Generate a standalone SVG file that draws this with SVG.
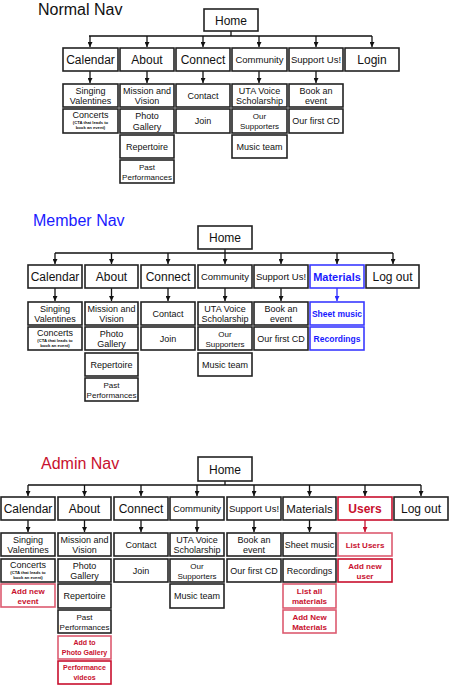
<svg xmlns="http://www.w3.org/2000/svg" width="449" height="686" viewBox="0 0 449 686">
<style>
text{font-family:"Liberation Sans","Open Sans",Arial,sans-serif;fill:#111;text-anchor:middle}
.title{font-size:16px;text-anchor:start}
.box{fill:#fff;stroke:#222;stroke-width:1.6}
.rbox{fill:#fff;stroke:#c8102e;stroke-width:1.6}
.rbox2{fill:#fff;stroke:#dd5a70;stroke-width:1.6}
.bbox{fill:#fff;stroke:#3a3aff;stroke-width:1.6}
.t{font-size:12px}
.ts{font-size:9.5px}
.s{font-size:9px}
.ss{font-size:8px}
.tiny{font-size:4.2px;font-weight:bold}
.r{fill:#c8102e;font-weight:bold}
.b{fill:#1a1aff;font-weight:bold}
.ln{stroke:#111;stroke-width:1.3;fill:none}
.lb{stroke:#2a2aff;stroke-width:1.3;fill:none}
.lr{stroke:#c8102e;stroke-width:1.3;fill:none}
</style>
<defs>
<marker id="ah" viewBox="0 0 6 6" refX="6" refY="3" markerWidth="5" markerHeight="5" markerUnits="userSpaceOnUse" orient="auto"><path d="M0,0 L6,3 L0,6 z" fill="#111"/></marker>
<marker id="ahb" viewBox="0 0 6 6" refX="6" refY="3" markerWidth="5" markerHeight="5" markerUnits="userSpaceOnUse" orient="auto"><path d="M0,0 L6,3 L0,6 z" fill="#2a2aff"/></marker>
<marker id="ahr" viewBox="0 0 6 6" refX="6" refY="3" markerWidth="5" markerHeight="5" markerUnits="userSpaceOnUse" orient="auto"><path d="M0,0 L6,3 L0,6 z" fill="#c8102e"/></marker>
</defs>

<!-- Titles -->
<text class="title" x="38" y="15">Normal Nav</text>
<text class="title" x="33" y="226" style="fill:#1a1aff">Member Nav</text>
<text class="title" x="41" y="469" style="fill:#c8102e">Admin Nav</text>

<!-- Connectors -->
<g id="connectors">
 <!-- Normal -->
 <path class="ln" d="M231,31 V36 M89,36 H372"/>
 <g class="ln" marker-end="url(#ah)">
  <line x1="90" y1="36" x2="90" y2="47"/><line x1="147" y1="36" x2="147" y2="47"/><line x1="203" y1="36" x2="203" y2="47"/>
  <line x1="259" y1="36" x2="259" y2="47"/><line x1="316" y1="36" x2="316" y2="47"/><line x1="372" y1="36" x2="372" y2="47"/>
  <line x1="90" y1="71" x2="90" y2="83"/><line x1="147" y1="71" x2="147" y2="83"/><line x1="203" y1="71" x2="203" y2="83"/>
  <line x1="259" y1="71" x2="259" y2="83"/><line x1="316" y1="71" x2="316" y2="83"/>
 </g>
 <!-- Member -->
 <path class="ln" d="M225,249 V253 M55,253 H393"/>
 <g class="ln" marker-end="url(#ah)">
  <line x1="55" y1="253" x2="55" y2="264"/><line x1="111.5" y1="253" x2="111.5" y2="264"/><line x1="168" y1="253" x2="168" y2="264"/>
  <line x1="225" y1="253" x2="225" y2="264"/><line x1="281" y1="253" x2="281" y2="264"/><line x1="337" y1="253" x2="337" y2="264"/>
  <line x1="393" y1="253" x2="393" y2="264"/>
  <line x1="55" y1="288" x2="55" y2="301"/><line x1="111.5" y1="288" x2="111.5" y2="301"/><line x1="168" y1="288" x2="168" y2="301"/>
  <line x1="225" y1="288" x2="225" y2="301"/><line x1="281" y1="288" x2="281" y2="301"/>
 </g>
 <line class="lb" x1="337" y1="288" x2="337" y2="301" marker-end="url(#ahb)"/>
 <!-- Admin -->
 <path class="ln" d="M225,481 V485 M28,485 H421"/>
 <g class="ln" marker-end="url(#ah)">
  <line x1="28" y1="485" x2="28" y2="496"/><line x1="84.5" y1="485" x2="84.5" y2="496"/><line x1="141" y1="485" x2="141" y2="496"/>
  <line x1="197" y1="485" x2="197" y2="496"/><line x1="254" y1="485" x2="254" y2="496"/><line x1="309.5" y1="485" x2="309.5" y2="496"/>
  <line x1="365" y1="485" x2="365" y2="496"/><line x1="421" y1="485" x2="421" y2="496"/>
  <line x1="28" y1="520" x2="28" y2="532"/><line x1="84.5" y1="520" x2="84.5" y2="532"/><line x1="141" y1="520" x2="141" y2="532"/>
  <line x1="197" y1="520" x2="197" y2="532"/><line x1="254" y1="520" x2="254" y2="532"/><line x1="309.5" y1="520" x2="309.5" y2="532"/>
 </g>
 <line class="lr" x1="365" y1="520" x2="365" y2="532" marker-end="url(#ahr)"/>
</g>

<!-- ===== Normal Nav ===== -->
<g id="n-home"><rect class="box" x="204" y="9" width="54" height="22"/><text class="t" x="231" y="24.5">Home</text></g>
<g id="n-calendar"><rect class="box" x="63" y="48" width="55" height="23"/><text class="t" x="90.5" y="64">Calendar</text></g>
<g id="n-about"><rect class="box" x="120" y="48" width="54" height="23"/><text class="t" x="147" y="64">About</text></g>
<g id="n-connect"><rect class="box" x="176" y="48" width="54" height="23"/><text class="t" x="203" y="64">Connect</text></g>
<g id="n-community"><rect class="box" x="232" y="48" width="55" height="23"/><text class="ts" x="259.5" y="63">Community</text></g>
<g id="n-support"><rect class="box" x="289" y="48" width="54" height="23"/><text class="ts" x="316" y="63">Support Us!</text></g>
<g id="n-login"><rect class="box" x="345" y="48" width="54" height="23"/><text class="t" x="372" y="64">Login</text></g>

<g id="n-singing"><rect class="box" x="63" y="84" width="55" height="23"/><text class="s" x="90.5" y="94">Singing</text><text class="s" x="90.5" y="104">Valentines</text></g>
<g id="n-concerts"><rect class="box" x="63" y="109" width="55" height="24"/><text class="s" x="90.5" y="118">Concerts</text><text class="tiny" x="90.5" y="124">(CTA that leads to</text><text class="tiny" x="90.5" y="129">book an event)</text></g>
<g id="n-mission"><rect class="box" x="120" y="84" width="54" height="23"/><text class="s" x="147" y="94">Mission and</text><text class="s" x="147" y="104">Vision</text></g>
<g id="n-photo"><rect class="box" x="120" y="109" width="54" height="24"/><text class="s" x="147" y="119">Photo</text><text class="s" x="147" y="129.5">Gallery</text></g>
<g id="n-repertoire"><rect class="box" x="120" y="135" width="54" height="23"/><text class="s" x="147" y="149.5">Repertoire</text></g>
<g id="n-past"><rect class="box" x="120" y="160" width="54" height="23"/><text class="ss" x="147" y="169.5">Past</text><text class="ss" x="147" y="179.5">Performances</text></g>
<g id="n-contact"><rect class="box" x="176" y="84" width="54" height="23"/><text class="s" x="203" y="98.5">Contact</text></g>
<g id="n-join"><rect class="box" x="176" y="109" width="54" height="24"/><text class="s" x="203" y="124">Join</text></g>
<g id="n-uta"><rect class="box" x="232" y="84" width="55" height="23"/><text class="s" x="259.5" y="94">UTA Voice</text><text class="s" x="259.5" y="104">Scholarship</text></g>
<g id="n-supporters"><rect class="box" x="232" y="109" width="55" height="24"/><text class="ss" x="259.5" y="119">Our</text><text class="ss" x="259.5" y="129">Supporters</text></g>
<g id="n-music"><rect class="box" x="232" y="135" width="55" height="23"/><text class="s" x="259.5" y="149.5">Music team</text></g>
<g id="n-book"><rect class="box" x="289" y="84" width="54" height="23"/><text class="s" x="316" y="94">Book an</text><text class="s" x="316" y="104">event</text></g>
<g id="n-cd"><rect class="box" x="289" y="109" width="54" height="24"/><text class="s" x="316" y="124">Our first CD</text></g>

<!-- ===== Member Nav ===== -->
<g id="m-home"><rect class="box" x="198" y="226" width="54" height="23"/><text class="t" x="225" y="242">Home</text></g>
<g id="m-calendar"><rect class="box" x="28" y="265" width="54" height="23"/><text class="t" x="55" y="281">Calendar</text></g>
<g id="m-about"><rect class="box" x="85" y="265" width="53" height="23"/><text class="t" x="111.5" y="281">About</text></g>
<g id="m-connect"><rect class="box" x="141" y="265" width="54" height="23"/><text class="t" x="168" y="281">Connect</text></g>
<g id="m-community"><rect class="box" x="198" y="265" width="54" height="23"/><text class="ts" x="225" y="280">Community</text></g>
<g id="m-support"><rect class="box" x="254" y="265" width="54" height="23"/><text class="ts" x="281" y="280">Support Us!</text></g>
<g id="m-materials"><rect class="bbox" x="310" y="265" width="54" height="23"/><text class="ts b" x="337" y="280.5" style="font-size:11px">Materials</text></g>
<g id="m-logout"><rect class="box" x="366" y="265" width="53" height="23"/><text class="t" x="392.5" y="281">Log out</text></g>

<g id="m-singing"><rect class="box" x="28" y="302" width="54" height="23"/><text class="s" x="55" y="312">Singing</text><text class="s" x="55" y="322">Valentines</text></g>
<g id="m-concerts"><rect class="box" x="28" y="327" width="54" height="23"/><text class="s" x="55" y="336">Concerts</text><text class="tiny" x="55" y="342">(CTA that leads to</text><text class="tiny" x="55" y="347">book an event)</text></g>
<g id="m-mission"><rect class="box" x="85" y="302" width="53" height="23"/><text class="s" x="111.5" y="312">Mission and</text><text class="s" x="111.5" y="322">Vision</text></g>
<g id="m-photo"><rect class="box" x="85" y="327" width="53" height="23"/><text class="s" x="111.5" y="337">Photo</text><text class="s" x="111.5" y="347">Gallery</text></g>
<g id="m-repertoire"><rect class="box" x="85" y="353" width="53" height="23"/><text class="s" x="111.5" y="367.5">Repertoire</text></g>
<g id="m-past"><rect class="box" x="85" y="378" width="53" height="23"/><text class="ss" x="111.5" y="387.5">Past</text><text class="ss" x="111.5" y="397.5">Performances</text></g>
<g id="m-contact"><rect class="box" x="141" y="302" width="54" height="23"/><text class="s" x="168" y="316.5">Contact</text></g>
<g id="m-join"><rect class="box" x="141" y="327" width="54" height="23"/><text class="s" x="168" y="341.5">Join</text></g>
<g id="m-uta"><rect class="box" x="198" y="302" width="54" height="23"/><text class="s" x="225" y="312">UTA Voice</text><text class="s" x="225" y="322">Scholarship</text></g>
<g id="m-supporters"><rect class="box" x="198" y="327" width="54" height="23"/><text class="ss" x="225" y="337">Our</text><text class="ss" x="225" y="347">Supporters</text></g>
<g id="m-music"><rect class="box" x="198" y="353" width="54" height="23"/><text class="s" x="225" y="367.5">Music team</text></g>
<g id="m-book"><rect class="box" x="254" y="302" width="54" height="23"/><text class="s" x="281" y="312">Book an</text><text class="s" x="281" y="322">event</text></g>
<g id="m-cd"><rect class="box" x="254" y="327" width="54" height="23"/><text class="s" x="281" y="341.5">Our first CD</text></g>
<g id="m-sheet"><rect class="bbox" x="310" y="302" width="54" height="23"/><text class="s b" x="337" y="316.5" style="font-size:8.5px">Sheet music</text></g>
<g id="m-recordings"><rect class="bbox" x="310" y="327" width="54" height="23"/><text class="s b" x="337" y="341.5" style="font-size:8.5px">Recordings</text></g>

<!-- ===== Admin Nav ===== -->
<g id="a-home"><rect class="box" x="198" y="457" width="54" height="24"/><text class="t" x="225" y="473.5">Home</text></g>
<g id="a-calendar"><rect class="box" x="1" y="497" width="54" height="23"/><text class="t" x="28" y="513">Calendar</text></g>
<g id="a-about"><rect class="box" x="58" y="497" width="53" height="23"/><text class="t" x="84.5" y="513">About</text></g>
<g id="a-connect"><rect class="box" x="114" y="497" width="54" height="23"/><text class="t" x="141" y="513">Connect</text></g>
<g id="a-community"><rect class="box" x="170" y="497" width="54" height="23"/><text class="ts" x="197" y="512">Community</text></g>
<g id="a-support"><rect class="box" x="227" y="497" width="54" height="23"/><text class="ts" x="254" y="512">Support Us!</text></g>
<g id="a-materials"><rect class="box" x="283" y="497" width="53" height="23"/><text class="t" x="309.5" y="513" style="font-size:11.5px">Materials</text></g>
<g id="a-users"><rect class="rbox" x="338" y="497" width="54" height="23"/><text class="t r" x="365" y="513" style="font-size:12px">Users</text></g>
<g id="a-logout"><rect class="box" x="394" y="497" width="54" height="23"/><text class="t" x="421" y="513">Log out</text></g>

<g id="a-singing"><rect class="box" x="1" y="533" width="54" height="23"/><text class="s" x="28" y="543">Singing</text><text class="s" x="28" y="553">Valentines</text></g>
<g id="a-concerts"><rect class="box" x="1" y="559" width="54" height="23"/><text class="s" x="28" y="568">Concerts</text><text class="tiny" x="28" y="574">(CTA that leads to</text><text class="tiny" x="28" y="579">book an event)</text></g>
<g id="a-addevent"><rect class="rbox2" x="1" y="584" width="54" height="23"/><text class="ss r" x="28" y="593.5">Add new</text><text class="ss r" x="28" y="603.5">event</text></g>
<g id="a-mission"><rect class="box" x="58" y="533" width="53" height="23"/><text class="s" x="84.5" y="543">Mission and</text><text class="s" x="84.5" y="553">Vision</text></g>
<g id="a-photo"><rect class="box" x="58" y="559" width="53" height="23"/><text class="s" x="84.5" y="569">Photo</text><text class="s" x="84.5" y="579">Gallery</text></g>
<g id="a-repertoire"><rect class="box" x="58" y="584" width="53" height="24"/><text class="s" x="84.5" y="598.5">Repertoire</text></g>
<g id="a-past"><rect class="box" x="58" y="610" width="53" height="23"/><text class="ss" x="84.5" y="619.5">Past</text><text class="ss" x="84.5" y="629.5">Performances</text></g>
<g id="a-addphoto"><rect class="rbox2" x="58" y="636" width="53" height="23"/><text class="ss r" x="84.5" y="645" style="font-size:7px">Add to</text><text class="ss r" x="84.5" y="655" style="font-size:7px">Photo Gallery</text></g>
<g id="a-perfvideos"><rect class="rbox" x="58" y="661" width="53" height="23"/><text class="ss r" x="84.5" y="670" style="font-size:7px">Performance</text><text class="ss r" x="84.5" y="680" style="font-size:7px">videos</text></g>
<g id="a-contact"><rect class="box" x="114" y="533" width="54" height="23"/><text class="s" x="141" y="547.5">Contact</text></g>
<g id="a-join"><rect class="box" x="114" y="559" width="54" height="23"/><text class="s" x="141" y="573.5">Join</text></g>
<g id="a-uta"><rect class="box" x="170" y="533" width="54" height="23"/><text class="s" x="197" y="543">UTA Voice</text><text class="s" x="197" y="553">Scholarship</text></g>
<g id="a-supporters"><rect class="box" x="170" y="559" width="54" height="23"/><text class="ss" x="197" y="569">Our</text><text class="ss" x="197" y="579">Supporters</text></g>
<g id="a-music"><rect class="box" x="170" y="584" width="54" height="24"/><text class="s" x="197" y="598.5">Music team</text></g>
<g id="a-book"><rect class="box" x="227" y="533" width="54" height="23"/><text class="s" x="254" y="543">Book an</text><text class="s" x="254" y="553">event</text></g>
<g id="a-cd"><rect class="box" x="227" y="559" width="54" height="23"/><text class="s" x="254" y="573.5">Our first CD</text></g>
<g id="a-sheet"><rect class="box" x="283" y="533" width="53" height="23"/><text class="s" x="309.5" y="547.5">Sheet music</text></g>
<g id="a-recordings"><rect class="box" x="283" y="559" width="53" height="23"/><text class="s" x="309.5" y="573.5">Recordings</text></g>
<g id="a-listmat"><rect class="rbox2" x="283" y="584" width="53" height="24"/><text class="ss r" x="309.5" y="593.5">List all</text><text class="ss r" x="309.5" y="603.5">materials</text></g>
<g id="a-addmat"><rect class="rbox2" x="283" y="610" width="53" height="23"/><text class="ss r" x="309.5" y="619.5">Add New</text><text class="ss r" x="309.5" y="629.5">Materials</text></g>
<g id="a-listusers"><rect class="rbox2" x="338" y="533" width="54" height="23"/><text class="ss r" x="365" y="547.5">List Users</text></g>
<g id="a-adduser"><rect class="rbox" x="338" y="559" width="54" height="23"/><text class="ss r" x="365" y="568.5">Add new</text><text class="ss r" x="365" y="578.5">user</text></g>
</svg>
